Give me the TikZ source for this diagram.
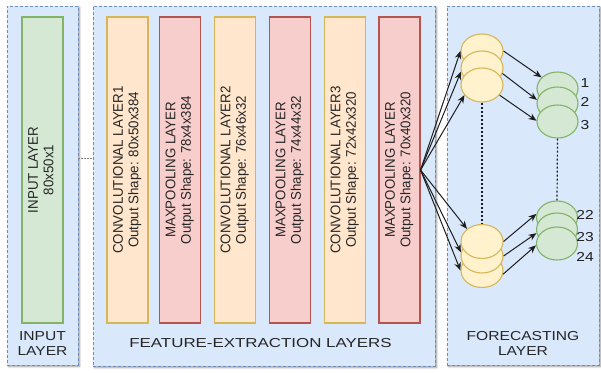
\documentclass[tikz,border=0pt]{standalone}
\usepackage{fontspec}
\setmainfont{Liberation Sans}
\usetikzlibrary{shapes.geometric,shadows.blur,arrows.meta}
\definecolor{panelfill}{HTML}{DAE8FC}
\definecolor{paneldraw}{HTML}{6C8EBF}
\definecolor{greenfill}{HTML}{D5E8D4}
\definecolor{greendraw}{HTML}{82B366}
\definecolor{peachfill}{HTML}{FFE6CC}
\definecolor{peachdraw}{HTML}{D6B656}
\definecolor{redfill}{HTML}{F8CECC}
\definecolor{reddraw}{HTML}{B85450}
\definecolor{yelfill}{HTML}{FFF2CC}
\definecolor{yeldraw}{HTML}{D6B656}
\definecolor{textgray}{HTML}{262626}
\definecolor{arrowgray}{HTML}{1E1E1E}
\newcommand{\boxtxt}[2]{\scalebox{0.95}[1]{\begin{tabular}{@{}c@{}}#1\\#2\end{tabular}}}
\newcommand{\lbltxt}[1]{\scalebox{1.2}[1]{\begin{tabular}{@{}c@{}}#1\end{tabular}}}
\tikzset{
  panel/.style={rectangle, fill=panelfill, draw=paneldraw, line width=0.8pt,
    dash pattern=on 3pt off 2pt, inner sep=0pt,
    blur shadow={shadow xshift=1.5pt, shadow yshift=-1.5pt, shadow blur steps=6, shadow opacity=40}},
  layerbox/.style={rectangle, rotate=90, minimum width=306pt, minimum height=41pt,
    inner sep=0pt, line width=1.1pt, align=center, text=textgray,
    font=\fontsize{14}{15.5}\selectfont},
  inbox/.style={layerbox, fill=greenfill, draw=greendraw},
  convbox/.style={layerbox, fill=peachfill, draw=peachdraw},
  poolbox/.style={layerbox, fill=redfill, draw=reddraw},
  lbl/.style={text=textgray, inner sep=0pt, font=\fontsize{13}{15}\selectfont},
  numlbl/.style={text=arrowgray, inner sep=0pt, font=\fontsize{13}{15}\selectfont},
  yel/.style={ellipse, minimum width=42pt, minimum height=34pt, inner sep=0pt,
    fill=yelfill, draw=yeldraw, line width=1.1pt},
  grn/.style={ellipse, minimum width=41pt, minimum height=33pt, inner sep=0pt,
    fill=greenfill, draw=greendraw, line width=1.1pt},
  arr/.style={draw=arrowgray, line width=1pt, -{Stealth[length=8pt,width=6.5pt]}},
  vdots/.style={draw=arrowgray, line width=1.2pt, dash pattern=on 2pt off 2pt},
  link/.style={draw=gray, line width=0.8pt, dash pattern=on 1.5pt off 1.5pt}
}
\begin{document}
\begin{tikzpicture}[x=1pt,y=-1pt]
\useasboundingbox (0,0) rectangle (601,372);
% panels
\node[panel, minimum width=71pt, minimum height=359pt] (inpanel) at (42.5,185.5) {};
\node[panel, minimum width=342pt, minimum height=360pt] (fepanel) at (264,186) {};
\node[panel, minimum width=152pt, minimum height=359pt] (fcpanel) at (523,185.5) {};
\coordinate (dl) at (0,158);
\draw[link] (inpanel.east |- dl) -- (fepanel.west |- dl);
% panel labels
\node[lbl] (inlbl) at (42.5,344.5) {\lbltxt{INPUT\\LAYER}};
\node[lbl] (felbl) at (260.5,343) {\scalebox{1.3}[1]{FEATURE-EXTRACTION LAYERS}};
\node[lbl] (fclbl) at (523,344.5) {\lbltxt{FORECASTING\\LAYER}};
% layer boxes
\node[inbox] (inp) at (42.5,170) {\boxtxt{INPUT LAYER}{80x50x1}};
\node[convbox] (c1) at (127.5,170) {\boxtxt{CONVOLUTIONAL LAYER1}{Output Shape: 80x50x384}};
\node[poolbox] (p1) at (180,170) {\boxtxt{MAXPOOLING LAYER}{Output Shape: 78x4x384}};
\node[convbox] (c2) at (235,170) {\boxtxt{CONVOLUTIONAL LAYER2}{Output Shape: 76x46x32}};
\node[poolbox] (p2) at (290,170) {\boxtxt{MAXPOOLING LAYER}{Output Shape: 74x44x32}};
\node[convbox] (c3) at (345,170) {\boxtxt{CONVOLUTIONAL LAYER3}{Output Shape: 72x42x320}};
\node[poolbox] (p3) at (399.5,170) {\boxtxt{MAXPOOLING LAYER}{Output Shape: 70x40x320}};
\coordinate (src) at (p3.south);
% yellow groups
\node[yel] (ya1) at (482,51) {};
\node[yel] (ya2) at (482,68) {};
\node[yel] (ya3) at (482,85) {};
\node[yel] (yb3) at (482,270.5) {};
\node[yel] (yb2) at (482,256) {};
\node[yel] (yb1) at (482,241.5) {};
% green groups
\node[grn] (ga1) at (557.5,88.5) {};
\node[grn] (ga2) at (557.5,103.5) {};
\node[grn] (ga3) at (557.5,121.5) {};
\node[grn] (gb1) at (557,217.5) {};
\node[grn] (gb2) at (557,229.5) {};
\node[grn] (gb3) at (557,243.5) {};
% dotted verticals
\draw[vdots] (ya3.south) -- (yb1.north);
\draw[vdots] (ga3.south) -- (gb1.north);
% number labels
\node[numlbl] (n1) at (585,83) {\scalebox{1.2}[1]{1}};
\node[numlbl] (n2) at (585,102) {\scalebox{1.2}[1]{2}};
\node[numlbl] (n3) at (585,125) {\scalebox{1.2}[1]{3}};
\node[numlbl] (n22) at (585,215) {\scalebox{1.2}[1]{22}};
\node[numlbl] (n23) at (585,237) {\scalebox{1.2}[1]{23}};
\node[numlbl] (n24) at (585,257) {\scalebox{1.2}[1]{24}};
% arrows from last pooling layer
\draw[arr] (src) -- (ya1.180);
\draw[arr] (src) -- (ya2.190);
\draw[arr] (src) -- (ya3.210);
\draw[arr] (src) -- (yb1.140);
\draw[arr] (src) -- (yb2.170);
\draw[arr] (src) -- (yb3.180);
% arrows yellow to green
\draw[arr] (ya1.0) -- (ga1.145);
\draw[arr] (ya2.-15) -- (ga2.170);
\draw[arr] (ya3.-30) -- (ga3.178);
\draw[arr] (yb1.0) -- (gb1.170);
\draw[arr] (yb2.0) -- (gb2.190);
\draw[arr] (yb3.-10) -- (gb3.185);
\end{tikzpicture}
\end{document}
